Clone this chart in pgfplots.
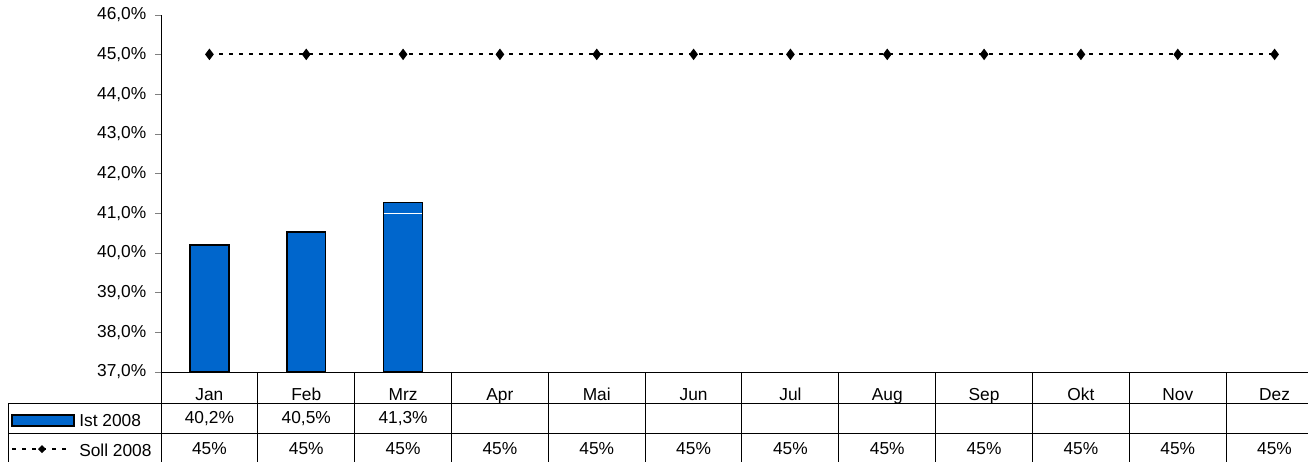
\documentclass[border=0pt]{standalone}
\usepackage{pgfplots}
\pgfplotsset{compat=1.18}
\usepackage{fontspec}
\setmainfont{Liberation Sans}
\definecolor{istblue}{RGB}{0,102,204}

\begin{document}
\begin{tikzpicture}[font=\fontsize{13}{15}\selectfont]
\useasboundingbox (0,0) rectangle (981pt,-346.5pt);

\begin{axis}[
  at={(120.75pt,-279pt)}, anchor=south west,
  scale only axis, width=871.5pt, height=268pt,
  xmin=0, xmax=12, ymin=37, ymax=46,
  axis x line*=bottom, axis y line*=left, axis line style={-},
  xtick={0.5,1.5,...,11.5},
  xticklabels={Jan,Feb,Mrz,Apr,Mai,Jun,Jul,Aug,Sep,Okt,Nov,Dez},
  xtick style={draw=none},
  xticklabel style={anchor=base, yshift=-16.5pt},
  ytick={37,...,46},
  ytick pos=left, tick align=outside, major tick length=4.5pt,
  yticklabel={\pgfmathprintnumber[fixed,fixed zerofill,precision=1,use comma]{\tick}\%},
  /pgf/number format/assume math mode=true,
  yticklabel style={xshift=-3pt},
]
\addplot[ybar, bar width=0.4, fill=istblue, draw=black, line width=1.1pt]
  coordinates {(0.5,40.2) (1.5,40.53) (2.5,41.27)};
\addplot[black, line width=1.4pt, dash pattern=on 3pt off 4.5pt,
  mark=diamond*, mark size=3.2pt, mark options={solid}]
  coordinates {(0.5,45) (1.5,45) (2.5,45) (3.5,45) (4.5,45) (5.5,45)
               (6.5,45) (7.5,45) (8.5,45) (9.5,45) (10.5,45) (11.5,45)};
\draw[white, line width=0.75pt] (axis cs:2.3,41) -- (axis cs:2.7,41);
\end{axis}

% data table below the plot (pixel units)
\begin{scope}[x=0.75pt, y=-0.75pt]
  \draw[black, line width=0.75pt] (8,403) -- (1323,403);
  \draw[black, line width=0.75pt] (8,433) -- (1323,433);
  \draw[black, line width=0.75pt] (8,403) -- (8,462);
  \draw[black, line width=0.75pt] (161,372) -- (161,462);
  \foreach \i in {1,...,11}
    \draw[black, line width=0.75pt] ({161+96.83*\i},372) -- ({161+96.83*\i},462);
  % legend keys
  \draw[black, line width=1.1pt, fill=istblue] (12,415) rectangle (74,426);
  \node[anchor=west, inner sep=0pt] at (79,421) {Ist 2008};
  \draw[black, line width=1.4pt, dash pattern=on 3pt off 4.5pt] (12,449) -- (72,449);
  \fill[black] (42,445) -- (46,449) -- (42,453) -- (38,449) -- cycle;
  \node[anchor=west, inner sep=0pt] at (79,450) {Soll 2008};
  % values
  \foreach \v [count=\i from 0] in {40{,}2\%,40{,}5\%,41{,}3\%}
    \node at ({161+96.83*(\i+0.5)},419) {\v};
  \foreach \i in {0,...,11}
    \node at ({161+96.83*(\i+0.5)},449) {45\%};
\end{scope}
\end{tikzpicture}
\end{document}
